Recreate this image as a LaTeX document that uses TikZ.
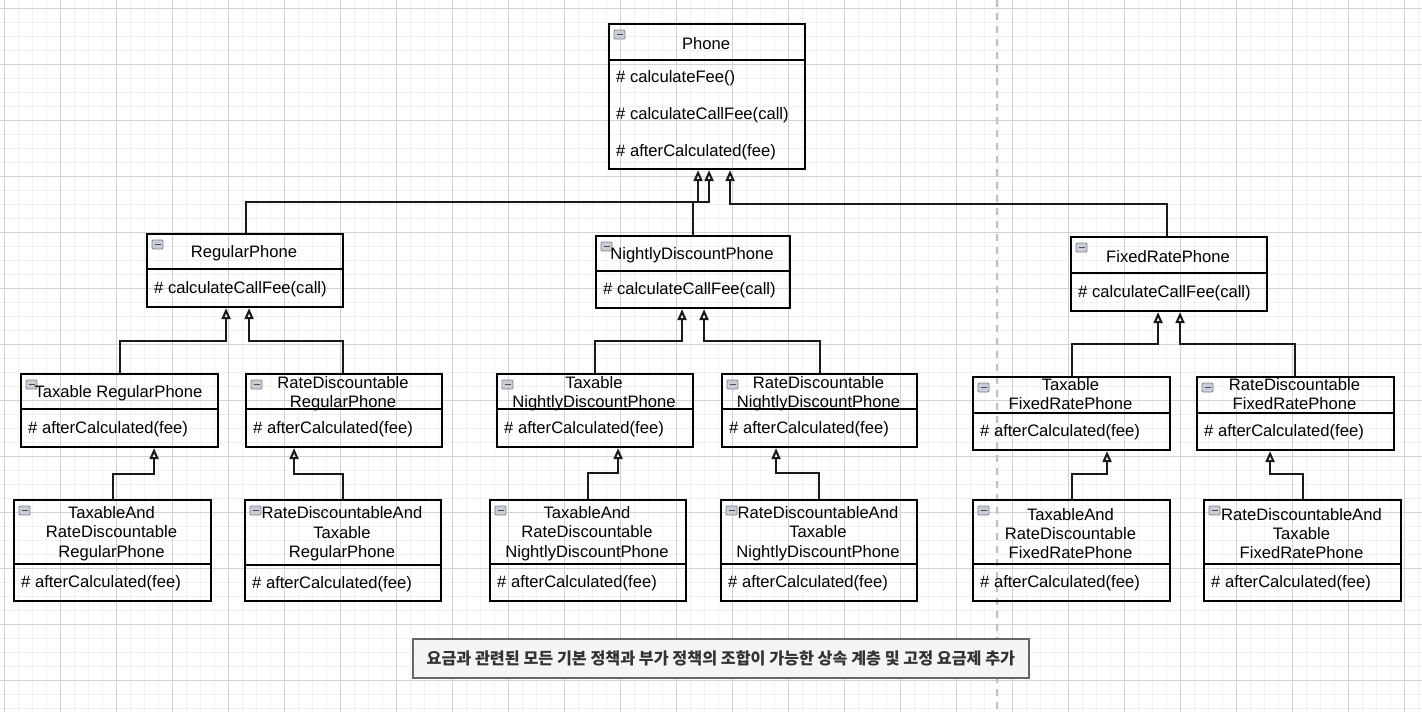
\documentclass[tikz,border=0pt]{standalone}
\usepackage{fontspec}
\setmainfont{Liberation Sans}
\newfontfamily\krfont{Noto Sans CJK KR}
\usetikzlibrary{arrows.meta}
\definecolor{gridminor}{HTML}{F1F1F1}
\definecolor{gridmajor}{HTML}{D2D2D2}
\definecolor{dashgray}{HTML}{C0C0C0}
\definecolor{capfill}{HTML}{F5F5F5}
\definecolor{capdraw}{HTML}{666666}
\definecolor{captext}{HTML}{333333}
\definecolor{iconfill}{HTML}{C9CED6}
\definecolor{icondraw}{HTML}{7D838E}
\definecolor{iconbar}{HTML}{4A505A}
\tikzset{
  classbox/.style={draw=black, line width=2.1pt, inner sep=0pt, rectangle},
  divider/.style={draw=black, line width=2.1pt},
  titletext/.style={inner sep=0pt, align=center, yshift=-2pt, font=\fontsize{16.6}{19.3}\selectfont},
  multititle/.style={yshift=-1pt},
  hightitle/.style={yshift=2.5pt},
  methodtext/.style={inner sep=0pt, anchor=west, yshift=-1.5pt, font=\fontsize{16.6}{19.3}\selectfont},
  inh/.style={draw=black!90, line width=2.1pt, -{Triangle[open,width=9pt,length=11pt,fill=white]}},
  iconshape/.style={draw=icondraw, fill=iconfill, line width=0.8pt, rounded corners=1pt},
  iconline/.style={draw=iconbar, line width=1.4pt},
  minorline/.style={draw=gridminor, line width=1pt},
  majorline/.style={draw=gridmajor, line width=1pt},
  caption/.style={draw=capdraw, fill=capfill, line width=1.8pt, inner sep=0pt, rectangle,
    text=captext, font=\krfont\bfseries\fontsize{16.2}{19}\selectfont}
}
\newcommand\umlclass[9][]{%
  \node[classbox, anchor=north west, minimum width={(#5)-(#3)}, minimum height={(#6)-(#4)}] (#2) at (#3,#4) {};
  \draw[divider] (#3,#7) -- (#5,#7);
  \draw[iconshape] ({#3+6},{#4+7}) rectangle ++(11,9);
  \draw[iconline] ({#3+8.5},{#4+11.5}) -- ++(6,0);
  \node[titletext,#1] (#2-title) at ({(#3+#5)/2},{(#4+#7)/2}) {#8};
  \node[methodtext] (#2-m1) at ({#3+8},{(#7+#6)/2}) {#9};
}
\begin{document}
\begin{tikzpicture}[x=1pt,y=-1pt]
\useasboundingbox (0,0) rectangle (1422,712);
\fill[white] (0,0) rectangle (1422,712);
% grid
\foreach \i in {0,...,101} \draw[minorline] ({4+14*\i},0) -- ({4+14*\i},712);
\foreach \j in {0,...,50} \draw[minorline] (0,{8+14*\j}) -- (1422,{8+14*\j});
\foreach \i in {0,...,25} \draw[majorline] ({4+56*\i},0) -- ({4+56*\i},712);
\foreach \j in {0,...,12} \draw[majorline] (0,{8+56*\j}) -- (1422,{8+56*\j});
% dashed separator
\draw[dashgray, line width=1.5pt, dash pattern=on 7pt off 6pt] (997,0) -- (997,712);

% Phone
\node[classbox, anchor=north west, minimum width=196, minimum height=145] (phone) at (608,23) {};
\draw[divider] (608,60) -- (804,60);
\draw[iconshape] (614,30) rectangle ++(11,9);
\draw[iconline] (616.5,34.5) -- ++(6,0);
\node[titletext] (phone-title) at (706,41.5) {Phone};
\node[methodtext] (phone-m1) at (616,77) {\# calculateFee()};
\node[methodtext] (phone-m2) at (616,114) {\# calculateCallFee(call)};
\node[methodtext] (phone-m3) at (616,151) {\# afterCalculated(fee)};

% level 2
\umlclass{rp}{146}{233}{342}{306}{269}{RegularPhone}{\# calculateCallFee(call)}
\umlclass{ndp}{595}{235}{789}{307}{271}{NightlyDiscountPhone}{\# calculateCallFee(call)}
\umlclass{frp}{1070}{236}{1266}{310}{273}{FixedRatePhone}{\# calculateCallFee(call)}

% level 3
\umlclass{trp}{20}{373}{217}{446}{409}{Taxable RegularPhone}{\# afterCalculated(fee)}
\umlclass[multititle]{rdrp}{245}{373}{441}{446}{409}{RateDiscountable\\RegularPhone}{\# afterCalculated(fee)}
\umlclass[multititle]{tndp}{496}{373}{692}{446}{409}{Taxable\\NightlyDiscountPhone}{\# afterCalculated(fee)}
\umlclass[multititle]{rdndp}{721}{373}{916}{446}{409}{RateDiscountable\\NightlyDiscountPhone}{\# afterCalculated(fee)}
\umlclass[hightitle]{tfrp}{972}{376}{1169}{449}{413}{Taxable\\FixedRatePhone}{\# afterCalculated(fee)}
\umlclass[hightitle]{rdfrp}{1196}{376}{1393}{449}{413}{RateDiscountable\\FixedRatePhone}{\# afterCalculated(fee)}

% level 4
\umlclass{tarrp}{13}{499}{210}{600}{564}{TaxableAnd\\RateDiscountable\\RegularPhone}{\# afterCalculated(fee)}
\umlclass{ratrp}{244}{499}{440}{600}{565}{RateDiscountableAnd\\Taxable\\RegularPhone}{\# afterCalculated(fee)}
\umlclass{tarndp}{489}{499}{685}{600}{564}{TaxableAnd\\RateDiscountable\\NightlyDiscountPhone}{\# afterCalculated(fee)}
\umlclass{ratndp}{720}{499}{916}{600}{564}{RateDiscountableAnd\\Taxable\\NightlyDiscountPhone}{\# afterCalculated(fee)}
\umlclass{tarfrp}{972}{499}{1169}{600}{564}{TaxableAnd\\RateDiscountable\\FixedRatePhone}{\# afterCalculated(fee)}
\umlclass{ratfrp}{1203}{499}{1400}{600}{564}{RateDiscountableAnd\\Taxable\\FixedRatePhone}{\# afterCalculated(fee)}

% inheritance connectors
\draw[inh] ([xshift=1pt]rp.north) |- ([xshift=-9pt,yshift=-32pt]phone.south) -- ([xshift=-9pt]phone.south);
\draw[inh] (ndp.north) |- ([xshift=2pt,yshift=-32pt]phone.south) -- ([xshift=2pt]phone.south);
\draw[inh] ([xshift=-2pt]frp.north) |- ([xshift=23pt,yshift=-34pt]phone.south) -- ([xshift=23pt]phone.south);

\draw[inh] (trp.north) |- ([xshift=-19pt,yshift=-33pt]rp.south) -- ([xshift=-19pt]rp.south);
\draw[inh] ([xshift=-1pt]rdrp.north) |- ([xshift=4pt,yshift=-33pt]rp.south) -- ([xshift=4pt]rp.south);
\draw[inh] (tndp.north) |- ([xshift=-11pt,yshift=-32pt]ndp.south) -- ([xshift=-11pt]ndp.south);
\draw[inh] (rdndp.north) |- ([xshift=11pt,yshift=-32pt]ndp.south) -- ([xshift=11pt]ndp.south);
\draw[inh] (tfrp.north) |- ([xshift=-11pt,yshift=-32pt]frp.south) -- ([xshift=-11pt]frp.south);
\draw[inh] ([xshift=-1pt]rdfrp.north) |- ([xshift=11pt,yshift=-32pt]frp.south) -- ([xshift=11pt]frp.south);

\draw[inh] (tarrp.north) |- ([xshift=34.5pt,yshift=-26pt]trp.south) -- ([xshift=34.5pt]trp.south);
\draw[inh] (ratrp.north) |- ([xshift=-50pt,yshift=-26pt]rdrp.south) -- ([xshift=-50pt]rdrp.south);
\draw[inh] (tarndp.north) |- ([xshift=23pt,yshift=-25pt]tndp.south) -- ([xshift=23pt]tndp.south);
\draw[inh] (ratndp.north) |- ([xshift=-43.5pt,yshift=-25pt]rdndp.south) -- ([xshift=-43.5pt]rdndp.south);
\draw[inh] (tarfrp.north) |- ([xshift=35.5pt,yshift=-23pt]tfrp.south) -- ([xshift=35.5pt]tfrp.south);
\draw[inh] (ratfrp.north) |- ([xshift=-25.5pt,yshift=-23pt]rdfrp.south) -- ([xshift=-25.5pt]rdfrp.south);

% caption
\node[caption, anchor=north west, minimum width=616, minimum height=39] (cap) at (412,638)
  {요금과 관련된 모든 기본 정책과 부가 정책의 조합이 가능한 상속 계층 및 고정 요금제 추가};
\end{tikzpicture}
\end{document}
